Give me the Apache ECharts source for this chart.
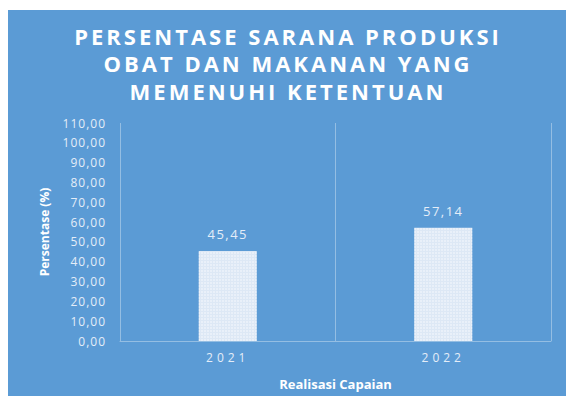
<!DOCTYPE html>
<html>
<head>
<meta charset="utf-8">
<script src="https://cdn.jsdelivr.net/npm/echarts@6/dist/echarts.min.js"></script>
<style>
  html, body { margin: 0; padding: 0; background: #ffffff; }
  #chart { width: 566px; height: 396px; }
</style>
</head>
<body>
<div id="chart"></div>
<script>
// Chart content
const titleLines = ['PERSENTASE SARANA PRODUKSI', 'OBAT DAN MAKANAN YANG', 'MEMENUHI KETENTUAN'];
const years = ['2021', '2022'];
const percentages = [45.45, 57.14];
const yAxisTitle = 'Persentase (%)';
const xAxisTitle = 'Realisasi Capaian';

// Number format used for ticks and labels: two decimals, comma separator
const fmt = v => v.toFixed(2).replace('.', ',');

const panelBlue = '#5b9bd5';
const lineColor = 'rgba(255,255,255,0.35)';
const textLight = '#e4edf8';

const chart = echarts.init(document.getElementById('chart'), null, { renderer: 'svg' });

chart.setOption({
  animation: false,
  backgroundColor: '#ffffff',
  graphic: [{
    type: 'rect',
    z: -10,
    silent: true,
    shape: { x: 8, y: 10, width: 558, height: 386 },
    style: { fill: panelBlue }
  }],
  title: {
    text: titleLines.join('\n'),
    left: 288,
    top: 22,
    textAlign: 'center',
    padding: 0,
    textStyle: {
      color: '#ffffff',
      fontFamily: 'Open Sans',
      fontWeight: 'bold',
      fontSize: 22,
      lineHeight: 27.5
    }
  },
  grid: { left: 120, right: 15, top: 123, bottom: 55, containLabel: false },
  xAxis: {
    type: 'category',
    data: years,
    boundaryGap: true,
    name: xAxisTitle,
    nameLocation: 'middle',
    nameGap: 36,
    nameTextStyle: { color: '#ffffff', fontFamily: 'Open Sans', fontWeight: 'bold', fontSize: 13 },
    axisLine: { show: true, lineStyle: { color: lineColor, width: 1 } },
    axisTick: { show: false },
    axisLabel: { color: textLight, fontFamily: 'Open Sans', fontSize: 12, margin: 10 },
    splitLine: { show: true, lineStyle: { color: lineColor, width: 1 } }
  },
  yAxis: {
    type: 'value',
    min: 0,
    max: 110,
    interval: 10,
    name: yAxisTitle,
    nameLocation: 'middle',
    nameGap: 70,
    nameRotate: 90,
    nameTextStyle: { color: '#ffffff', fontFamily: 'Open Sans', fontWeight: 'bold', fontSize: 12 },
    axisLine: { show: false },
    axisTick: { show: false },
    splitLine: { show: false },
    axisLabel: { color: textLight, fontFamily: 'Open Sans', fontSize: 12, margin: 14, formatter: v => fmt(v) }
  },
  series: [{
    type: 'bar',
    data: percentages,
    barWidth: 58,
    itemStyle: {
      color: '#dde8f5',
      decal: {
        symbol: 'rect',
        symbolSize: 0.8,
        color: 'rgba(255,255,255,0.6)',
        dashArrayX: [2, 1],
        dashArrayY: [2, 1],
        rotation: 0
      }
    },
    label: {
      show: true,
      position: 'top',
      distance: 10,
      color: textLight,
      fontFamily: 'Open Sans',
      fontSize: 13,
      formatter: p => fmt(p.value)
    }
  }]
});

// Letter spacing for the spaced-out texts (applied to the SVG text nodes)
function spaceOut() {
  const spacing = new Map();
  titleLines.forEach(t => spacing.set(t, '3px'));
  years.forEach(t => spacing.set(t, '4px'));
  percentages.forEach(v => spacing.set(fmt(v), '1.5px'));
  for (let v = 0; v <= 110; v += 10) if (!spacing.has(fmt(v))) spacing.set(fmt(v), '1px');
  document.querySelectorAll('#chart svg text').forEach(el => {
    const s = spacing.get(el.textContent.trim());
    if (s) el.style.letterSpacing = s;
  });
}
spaceOut();
chart.on('finished', spaceOut);
setTimeout(spaceOut, 50);
</script>
</body>
</html>
